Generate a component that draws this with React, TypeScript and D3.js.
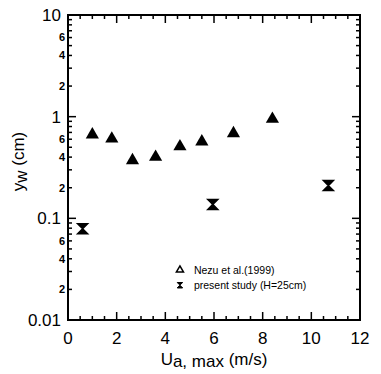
import { useEffect, useRef } from 'react';
import * as d3 from 'd3';

// Nezu et al. (1999)
const nezuU = [1.0, 1.8, 2.65, 3.6, 4.6, 5.5, 6.8, 8.4];
const nezuY = [0.68, 0.62, 0.38, 0.41, 0.52, 0.58, 0.7, 0.97];

// present study (H=25cm)
const presentU = [0.6, 5.95, 10.7];
const presentY = [0.079, 0.137, 0.21];

const xTicks = [0, 2, 4, 6, 8, 10, 12];
const yDecades = [0.01, 0.1, 1, 10];
const yMinorLabels = [2, 4, 6];

const legendLabels = ['Nezu et al.(1999)', 'present study (H=25cm)'];

const W = 381;
const H = 374;

export default function App() {
  const svgRef = useRef<SVGSVGElement>(null);

  useEffect(() => {
    if (!svgRef.current) return;
    const svg = d3.select(svgRef.current);
    svg.selectAll('*').remove();

    const margin = { top: 15, right: 21, bottom: 54, left: 68 };
    const iw = W - margin.left - margin.right;
    const ih = H - margin.top - margin.bottom;

    const x = d3.scaleLinear().domain([0, 12]).range([0, iw]);
    const y = d3.scaleLog().domain([0.01, 10]).range([ih, 0]);

    const g = svg.append('g').attr('transform', `translate(${margin.left},${margin.top})`);
    const font = 'Arial, "Liberation Sans", Helvetica, sans-serif';

    // frame
    g.append('rect')
      .attr('width', iw)
      .attr('height', ih)
      .attr('fill', 'none')
      .attr('stroke', '#000')
      .attr('stroke-width', 2);

    // x ticks (inward), top and bottom
    const xMinor = d3.range(0, 12.01, 0.5);
    xMinor.forEach((v) => {
      const major = Math.abs(v % 2) < 1e-9;
      const len = major ? 8 : 4;
      g.append('line')
        .attr('x1', x(v)).attr('x2', x(v))
        .attr('y1', ih).attr('y2', ih - len)
        .attr('stroke', '#000').attr('stroke-width', 1.5);
      g.append('line')
        .attr('x1', x(v)).attr('x2', x(v))
        .attr('y1', 0).attr('y2', len)
        .attr('stroke', '#000').attr('stroke-width', 1.5);
    });

    xTicks.forEach((v) => {
      g.append('text')
        .attr('x', x(v))
        .attr('y', ih + 24)
        .attr('text-anchor', 'middle')
        .style('font-family', font)
        .style('font-size', '17px')
        .text(String(v));
    });

    // y ticks (inward), left and right
    const yMinor: number[] = [];
    [0.01, 0.1, 1].forEach((d) => {
      for (let k = 1; k < 10; k++) yMinor.push(d * k);
    });
    yMinor.push(10);
    yMinor.forEach((v) => {
      const major = yDecades.some((d) => Math.abs(d - v) < 1e-9);
      const len = major ? 8 : 4;
      g.append('line')
        .attr('x1', 0).attr('x2', len)
        .attr('y1', y(v)).attr('y2', y(v))
        .attr('stroke', '#000').attr('stroke-width', 1.5);
      g.append('line')
        .attr('x1', iw).attr('x2', iw - len)
        .attr('y1', y(v)).attr('y2', y(v))
        .attr('stroke', '#000').attr('stroke-width', 1.5);
    });

    yDecades.forEach((v) => {
      g.append('text')
        .attr('x', -7)
        .attr('y', y(v))
        .attr('dy', '0.35em')
        .attr('text-anchor', 'end')
        .style('font-family', font)
        .style('font-size', '17px')
        .text(String(v));
    });
    [0.01, 0.1, 1].forEach((d) => {
      yMinorLabels.forEach((k) => {
        g.append('text')
          .attr('x', -3)
          .attr('y', y(d * k))
          .attr('dy', '0.35em')
          .attr('text-anchor', 'end')
          .style('font-family', font)
          .style('font-size', '11px')
          .style('font-weight', 'bold')
          .text(String(k));
      });
    });

    // markers
    const tri = d3.symbol().type(d3.symbolTriangle).size(75);
    const hourglass = (s: number) =>
      `M${-s},${-s}L0,0L${s},${-s}Z M${-s},${s}L0,0L${s},${s}Z M${-s},${-s}H${s} M${-s},${s}H${s}`;

    nezuU.forEach((u, i) => {
      g.append('path')
        .attr('d', tri()!)
        .attr('transform', `translate(${x(u)},${y(nezuY[i]) + 1})`)
        .attr('fill', '#000');
    });

    presentU.forEach((u, i) => {
      g.append('path')
        .attr('d', hourglass(5))
        .attr('transform', `translate(${x(u)},${y(presentY[i])})`)
        .attr('fill', '#000')
        .attr('stroke', '#000')
        .attr('stroke-width', 1.5);
    });

    // legend
    const lx = x(4.6);
    const ly0 = y(0.031);
    const ly1 = y(0.022);
    g.append('path')
      .attr('d', d3.symbol().type(d3.symbolTriangle).size(22)()!)
      .attr('transform', `translate(${lx},${ly0})`)
      .attr('fill', 'none')
      .attr('stroke', '#000')
      .attr('stroke-width', 1.5);
    g.append('path')
      .attr('d', hourglass(2.6))
      .attr('transform', `translate(${lx},${ly1})`)
      .attr('fill', '#000')
      .attr('stroke', '#000')
      .attr('stroke-width', 1);
    [ly0, ly1].forEach((ly, i) => {
      g.append('text')
        .attr('x', lx + 14)
        .attr('y', ly)
        .attr('dy', '0.35em')
        .style('font-family', font)
        .style('font-size', '10.5px')
        .text(legendLabels[i]);
    });

    // axis titles
    const xt = g.append('text')
      .attr('x', iw / 2)
      .attr('y', ih + 45)
      .attr('text-anchor', 'middle')
      .style('font-family', font)
      .style('font-size', '17px');
    xt.append('tspan').text('U');
    xt.append('tspan').attr('dy', 2).text('a, max');
    xt.append('tspan').attr('dy', -2).text(' (m/s)');

    const yt = g.append('text')
      .attr('transform', `translate(${-44},${ih / 2 - 6}) rotate(-90)`)
      .attr('text-anchor', 'middle')
      .style('font-family', font)
      .style('font-size', '17px');
    yt.append('tspan').text('y');
    yt.append('tspan').attr('dy', 3).text('w');
    yt.append('tspan').attr('dy', -3).text(' (cm)');
  }, []);

  return (
    <svg
      ref={svgRef}
      width={W}
      height={H}
      style={{ position: 'absolute', left: 0, top: 0, background: '#fff' }}
    />
  );
}
